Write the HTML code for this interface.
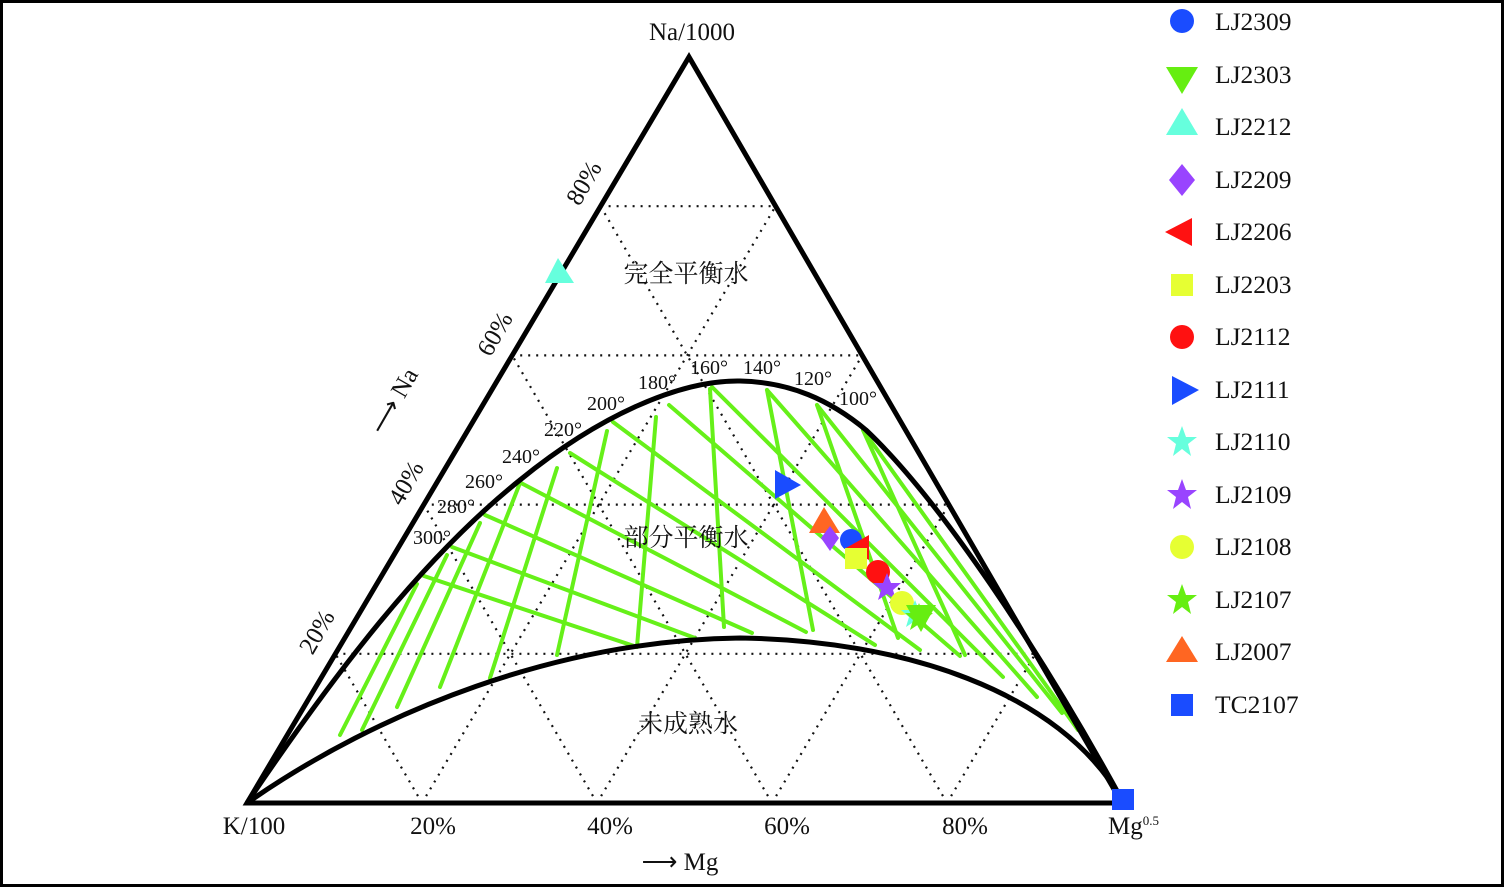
<!DOCTYPE html>
<html><head><meta charset="utf-8"><style>
html,body{margin:0;padding:0;background:#fff;}
svg{display:block;}
text{font-family:"Liberation Serif","Noto Serif CJK SC",serif;fill:#111;}
.cn{font-family:"Liberation Serif","Noto Serif CJK SC","Noto Sans CJK SC",serif;}
</style></head><body>
<svg width="1504" height="887" viewBox="0 0 1504 887" xmlns="http://www.w3.org/2000/svg">
<rect x="1.5" y="1.5" width="1501" height="884" fill="#fff" stroke="#000" stroke-width="3"/>
<g stroke="#111" stroke-width="2.2" stroke-dasharray="2,6" fill="none">
<line x1="335.4" y1="653.8" x2="1035.4" y2="653.8"/>
<line x1="423.8" y1="504.6" x2="948.8" y2="504.6"/>
<line x1="512.2" y1="355.4" x2="862.2" y2="355.4"/>
<line x1="600.6" y1="206.2" x2="775.6" y2="206.2"/>
<line x1="422" y1="803" x2="775.6" y2="206.2"/>
<line x1="597" y1="803" x2="862.2" y2="355.4"/>
<line x1="772" y1="803" x2="948.8" y2="504.6"/>
<line x1="947" y1="803" x2="1035.4" y2="653.8"/>
<line x1="947" y1="803" x2="600.6" y2="206.2"/>
<line x1="772" y1="803" x2="512.2" y2="355.4"/>
<line x1="597" y1="803" x2="423.8" y2="504.6"/>
<line x1="422" y1="803" x2="335.4" y2="653.8"/>
</g>
<g stroke="#66f019" stroke-width="4" stroke-linecap="round">
<line x1="424" y1="576" x2="637" y2="647"/>
<line x1="452" y1="547" x2="695" y2="638"/>
<line x1="485" y1="515" x2="752" y2="633"/>
<line x1="521" y1="483" x2="806" y2="632"/>
<line x1="570" y1="453" x2="875" y2="645"/>
<line x1="613" y1="422" x2="920" y2="650"/>
<line x1="669" y1="405" x2="960" y2="656"/>
<line x1="712" y1="387" x2="1003" y2="677"/>
<line x1="767" y1="390" x2="1037" y2="697"/>
<line x1="817" y1="405" x2="1062" y2="713"/>
<line x1="863" y1="430" x2="1078" y2="730"/>
<line x1="417" y1="584" x2="340" y2="735"/>
<line x1="447" y1="555" x2="362" y2="730"/>
<line x1="480" y1="523" x2="397" y2="707"/>
<line x1="520" y1="483" x2="440" y2="687"/>
<line x1="557" y1="468" x2="490" y2="678"/>
<line x1="607" y1="431" x2="557" y2="655"/>
<line x1="656" y1="417" x2="637" y2="647"/>
<line x1="710" y1="389" x2="724" y2="627"/>
<line x1="767" y1="390" x2="813" y2="630"/>
<line x1="817" y1="405" x2="898" y2="638"/>
<line x1="863" y1="430" x2="965" y2="655"/>
</g>
<g fill="none" stroke="#000" stroke-width="5">
<path d="M247,803 C330,680 420,560 520,480 C600,415 680,380 740,381 C790,382 830,400 866,430 C940,500 1040,650 1122,800"/>
<path d="M247,803 C380,710 560,640 740,638 C900,640 1060,690 1122,800"/>
<polygon points="247,803 1122,803 689,57" stroke-linejoin="miter"/>
</g>
<polygon points="558,258 545,283 574,283" fill="#66ffdd"/>
<polygon points="775,470 775,499 801,485" fill="#1a4cff"/>
<rect x="1112" y="789" width="22" height="21" fill="#1a4cff"/>
<polygon points="824,507 809,533 840,533" fill="#ff6622"/>
<polygon points="830,526 839,538 830,551 821,538" fill="#9944ff"/>
<circle cx="851" cy="540" r="11" fill="#1a4cff"/>
<polygon points="869,535 869,560 846,548" fill="#ff1111"/>
<rect x="845" y="548" width="22" height="21" fill="#e6ff33"/>
<circle cx="878" cy="572" r="12" fill="#ff1111"/>
<polygon points="887,573 891,583 901,583 893,590 896,600 887,594 878,600 881,590 873,583 883,583" fill="#9944ff"/>
<circle cx="902" cy="603" r="12" fill="#e6ff33"/>
<polygon points="915,600 919,610 929,610 921,617 924,627 915,621 906,627 909,617 901,610 911,610" fill="#66ffdd"/>
<polygon points="919,603 923,613 933,613 925,620 928,630 919,624 910,630 913,620 905,613 915,613" fill="#66ee11"/>
<polygon points="906,605 936,605 921,632" fill="#66ee11"/>
<g>
<circle cx="1182" cy="21" r="12" fill="#1a4cff"/>
<polygon points="1166,67 1198,67 1182,94" fill="#66ee11"/>
<polygon points="1182,108 1166,135 1198,135" fill="#66ffdd"/>
<polygon points="1182,164 1195,180 1182,196 1169,180" fill="#9944ff"/>
<polygon points="1192,218 1192,246 1165,232" fill="#ff1111"/>
<rect x="1171" y="274" width="22" height="22" fill="#e6ff33"/>
<circle cx="1182" cy="337" r="12" fill="#ff1111"/>
<polygon points="1172,376 1172,405 1199,390" fill="#1a4cff"/>
<polygon points="1182,426 1186,437 1197,437 1188,444 1191,456 1182,449 1173,456 1176,444 1167,437 1178,437" fill="#66ffdd"/>
<polygon points="1182,479 1186,490 1197,490 1188,497 1191,509 1182,502 1173,509 1176,497 1167,490 1178,490" fill="#9944ff"/>
<circle cx="1182" cy="547" r="12" fill="#e6ff33"/>
<polygon points="1182,584 1186,595 1197,595 1188,602 1191,614 1182,607 1173,614 1176,602 1167,595 1178,595" fill="#66ee11"/>
<polygon points="1182,636 1166,662 1198,662" fill="#ff6622"/>
<rect x="1171" y="694" width="22" height="22" fill="#1a4cff"/>
</g>
<g font-size="25.5">
<text x="1215" y="30">LJ2309</text>
<text x="1215" y="83">LJ2303</text>
<text x="1215" y="135">LJ2212</text>
<text x="1215" y="188">LJ2209</text>
<text x="1215" y="240">LJ2206</text>
<text x="1215" y="293">LJ2203</text>
<text x="1215" y="345">LJ2112</text>
<text x="1215" y="398">LJ2111</text>
<text x="1215" y="450">LJ2110</text>
<text x="1215" y="503">LJ2109</text>
<text x="1215" y="555">LJ2108</text>
<text x="1215" y="608">LJ2107</text>
<text x="1215" y="660">LJ2007</text>
<text x="1215" y="713">TC2107</text>
</g>
<g font-size="25">
<text x="692" y="40" text-anchor="middle">Na/1000</text>
<text x="254" y="834" text-anchor="middle">K/100</text>
<text x="1108" y="834">Mg<tspan font-size="13" dy="-9">0.5</tspan></text>
<text x="433" y="834" text-anchor="middle">20%</text>
<text x="610" y="834" text-anchor="middle">40%</text>
<text x="787" y="834" text-anchor="middle">60%</text>
<text x="965" y="834" text-anchor="middle">80%</text>
<text x="680" y="870" text-anchor="middle">⟶ Mg</text>
<text transform="translate(591,187) rotate(-60)" text-anchor="middle">80%</text>
<text transform="translate(502,338) rotate(-60)" text-anchor="middle">60%</text>
<text transform="translate(413,487) rotate(-60)" text-anchor="middle">40%</text>
<text transform="translate(324,636) rotate(-60)" text-anchor="middle">20%</text>
<text transform="translate(401,405) rotate(-60)" text-anchor="middle">⟶ Na</text>
</g>
<g font-size="20" text-anchor="middle">
<text x="858" y="405">100°</text>
<text x="813" y="385">120°</text>
<text x="762" y="374">140°</text>
<text x="709" y="374">160°</text>
<text x="657" y="389">180°</text>
<text x="606" y="410">200°</text>
<text x="563" y="436">220°</text>
<text x="521" y="463">240°</text>
<text x="484" y="488">260°</text>
<text x="456" y="513">280°</text>
<text x="432" y="544">300°</text>
</g>
<g font-size="25" text-anchor="middle">
<text class="cn" x="686" y="282">完全平衡水</text>
<text class="cn" x="686" y="546">部分平衡水</text>
<text class="cn" x="688" y="732">未成熟水</text>
</g>
</svg>
</body></html>
